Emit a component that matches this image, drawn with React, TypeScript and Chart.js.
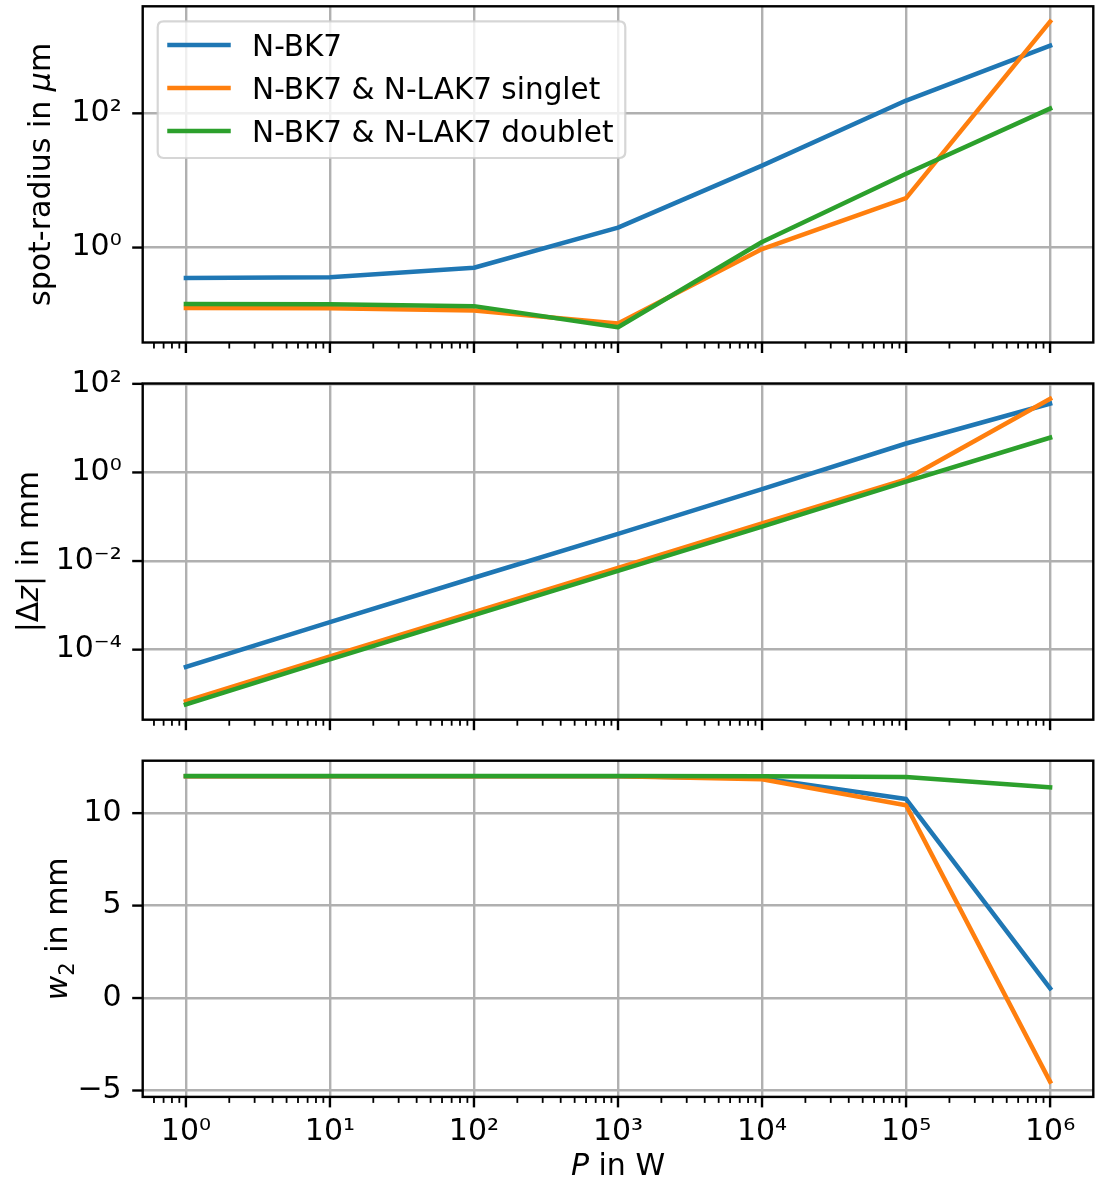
import React, { useEffect, useRef } from "react";
import { Chart, registerables } from "chart.js";

Chart.register(...registerables);

// ---------------- data ----------------
const powerW = [1, 10, 100, 1000, 10000, 100000, 1000000];
const seriesLabels = ["N-BK7", "N-BK7 & N-LAK7 singlet", "N-BK7 & N-LAK7 doublet"];
const seriesColors = ["#1f77b4", "#ff7f0e", "#2ca02c"];

const spotRadiusNBK7 = [0.352, 0.36, 0.5, 1.98, 16.6, 155, 1020];
const spotRadiusSinglet = [0.126, 0.125, 0.115, 0.074, 0.95, 5.46, 2330];
const spotRadiusDoublet = [0.144, 0.143, 0.134, 0.065, 1.21, 12.6, 118];

const deltaZNBK7 = [4.07e-5, 4.2e-4, 4.2e-3, 0.041, 0.42, 4.5, 35.8];
const deltaZSinglet = [6.85e-6, 7.0e-5, 7.0e-4, 7.0e-3, 0.071, 0.7, 46];
const deltaZDoublet = [5.8e-6, 6.0e-5, 6.0e-4, 6.0e-3, 0.06, 0.62, 6.1];

const w2NBK7 = [12.0, 12.0, 12.0, 12.0, 11.89, 10.76, 0.52];
const w2Singlet = [12.0, 12.0, 12.0, 11.99, 11.83, 10.43, -4.52];
const w2Doublet = [12.01, 12.01, 12.01, 12.01, 12.0, 11.96, 11.4];

const xMajorExponents = [0, 1, 2, 3, 4, 5, 6];
const spotTickExponents = [0, 2];
const deltaZTickExponents = [-4, -2, 0, 2];
const w2TickValues = [-5, 0, 5, 10];

// ---------------- style ----------------
const FONT = "'DejaVu Sans', 'Noto Sans', sans-serif";
const FS = 30;
const LEG_FS = 29.5;
const LW = 4.5;
const GRID = "#b0b0b0";
const GRID_W = 2.4;
const SPINE_W = 2.4;
const MAJOR_LEN = 10.5;
const MINOR_LEN = 6;
const FIG_W = 1096;
const FIG_H = 1183;
const AX_LEFT = 142.7;
const AX_RIGHT = 1093.3;

const SUP: Record<string, string> = {
  "0": "\u2070", "1": "\u00b9", "2": "\u00b2", "3": "\u00b3", "4": "\u2074",
  "5": "\u2075", "6": "\u2076", "7": "\u2077", "8": "\u2078", "9": "\u2079", "-": "\u207b",
};
const pow10Label = (e: number) => "10" + String(e).split("").map((c) => SUP[c]).join("");

function logLimits(arrs: number[][]): [number, number] {
  const all = arrs.flat();
  const lo = Math.log10(Math.min(...all));
  const hi = Math.log10(Math.max(...all));
  const m = 0.05 * (hi - lo);
  return [Math.pow(10, lo - m), Math.pow(10, hi + m)];
}
function linLimits(arrs: number[][]): [number, number] {
  const all = arrs.flat();
  const lo = Math.min(...all);
  const hi = Math.max(...all);
  const m = 0.05 * (hi - lo);
  return [lo - m, hi + m];
}

const xLimits = logLimits([powerW]);
const xMajorValues = xMajorExponents.map((e) => Math.pow(10, e));
const xMinorValues: number[] = [];
for (let e = -1; e <= 6; e++) {
  for (let k = 2; k <= 9; k++) {
    const v = k * Math.pow(10, e);
    if (v >= xLimits[0] && v <= xLimits[1]) xMinorValues.push(v);
  }
}

type Seg = { text: string; italic?: boolean; scale?: number; dy?: number };

function drawRich(ctx: CanvasRenderingContext2D, segs: Seg[], x: number, y: number, rotate: boolean) {
  ctx.save();
  ctx.translate(x, y);
  if (rotate) ctx.rotate(-Math.PI / 2);
  ctx.textBaseline = "alphabetic";
  ctx.textAlign = "left";
  ctx.fillStyle = "#000";
  const fontOf = (s: Seg) => `${s.italic ? "italic " : ""}${(s.scale || 1) * FS}px ${FONT}`;
  let total = 0;
  for (const s of segs) {
    ctx.font = fontOf(s);
    total += ctx.measureText(s.text).width;
  }
  let cx = -total / 2;
  for (const s of segs) {
    ctx.font = fontOf(s);
    ctx.fillText(s.text, cx, s.dy || 0);
    cx += ctx.measureText(s.text).width;
  }
  ctx.restore();
}

function line(ctx: CanvasRenderingContext2D, x1: number, y1: number, x2: number, y2: number) {
  ctx.beginPath();
  ctx.moveTo(x1, y1);
  ctx.lineTo(x2, y2);
  ctx.stroke();
}

const mplFrame = {
  id: "mplFrame",
  afterDraw(chart: any, _args: any, opts: any) {
    const { ctx, chartArea: a } = chart;
    const xs = chart.scales.x;
    const ys = chart.scales.y;
    ctx.save();
    ctx.strokeStyle = "#000";
    ctx.lineCap = "butt";
    // y ticks
    ctx.lineWidth = SPINE_W;
    for (const v of opts.yTickValues) {
      const py = ys.getPixelForValue(v);
      line(ctx, a.left - MAJOR_LEN, py, a.left, py);
    }
    // x ticks
    for (const v of xMajorValues) {
      const px = xs.getPixelForValue(v);
      line(ctx, px, a.bottom, px, a.bottom + MAJOR_LEN);
    }
    ctx.lineWidth = 1.8;
    for (const v of xMinorValues) {
      const px = xs.getPixelForValue(v);
      line(ctx, px, a.bottom, px, a.bottom + MINOR_LEN);
    }
    // spines
    ctx.lineWidth = SPINE_W;
    ctx.lineJoin = "miter";
    ctx.strokeRect(a.left, a.top, a.right - a.left, a.bottom - a.top);
    // titles
    if (opts.yTitle) drawRich(ctx, opts.yTitle.segs, opts.yTitle.x, (a.top + a.bottom) / 2, true);
    if (opts.xTitle) drawRich(ctx, opts.xTitle.segs, (a.left + a.right) / 2, opts.xTitle.y, false);
    // legend
    if (opts.legend) {
      const datasets = chart.data.datasets;
      ctx.font = `${LEG_FS}px ${FONT}`;
      let maxW = 0;
      for (const d of datasets) maxW = Math.max(maxW, ctx.measureText(d.label).width);
      const pad = 0.4 * LEG_FS;
      const handleLen = 2 * LEG_FS;
      const textPad = 0.8 * LEG_FS;
      const lx = a.left + 0.5 * FS;
      const ly = a.top + 0.5 * FS;
      const firstRow = ly + 23.7;
      const pitch = 43;
      const bw = pad + handleLen + textPad + maxW + pad;
      const bh = 23.7 + pitch * (datasets.length - 1) + 27;
      const r = 0.2 * LEG_FS;
      ctx.beginPath();
      ctx.moveTo(lx + r, ly);
      ctx.lineTo(lx + bw - r, ly);
      ctx.quadraticCurveTo(lx + bw, ly, lx + bw, ly + r);
      ctx.lineTo(lx + bw, ly + bh - r);
      ctx.quadraticCurveTo(lx + bw, ly + bh, lx + bw - r, ly + bh);
      ctx.lineTo(lx + r, ly + bh);
      ctx.quadraticCurveTo(lx, ly + bh, lx, ly + bh - r);
      ctx.lineTo(lx, ly + r);
      ctx.quadraticCurveTo(lx, ly, lx + r, ly);
      ctx.closePath();
      ctx.fillStyle = "rgba(255,255,255,0.8)";
      ctx.fill();
      ctx.strokeStyle = "rgba(204,204,204,0.8)";
      ctx.lineWidth = 2.2;
      ctx.stroke();
      datasets.forEach((d: any, i: number) => {
        const cy = firstRow + i * pitch;
        ctx.strokeStyle = d.borderColor;
        ctx.lineWidth = LW;
        ctx.lineCap = "square";
        line(ctx, lx + pad, cy, lx + pad + handleLen, cy);
        ctx.fillStyle = "#000";
        ctx.textBaseline = "alphabetic";
        ctx.textAlign = "left";
        ctx.font = `${LEG_FS}px ${FONT}`;
        ctx.fillText(d.label, lx + pad + handleLen + textPad, cy + 0.365 * LEG_FS);
      });
    }
    ctx.restore();
  },
};

function makeDatasets(series: number[][]) {
  return series.map((vals, i) => ({
    label: seriesLabels[i],
    data: powerW.map((p, j) => ({ x: p, y: vals[j] })),
    borderColor: seriesColors[i],
    backgroundColor: seriesColors[i],
    borderWidth: LW,
    pointRadius: 0,
    pointHoverRadius: 0,
    tension: 0,
    fill: false,
    borderJoinStyle: "round",
    borderCapStyle: "square",
    order: series.length - i,
  }));
}

type PanelSpec = {
  canvasTop: number;
  canvasH: number;
  axTop: number;
  axBottom: number;
  series: number[][];
  yType: "logarithmic" | "linear";
  yLimits: [number, number];
  yTickValues: number[];
  yLabel: (v: number) => string;
  yTitle: { segs: Seg[]; x: number };
  showXLabels: boolean;
  xTitle?: { segs: Seg[]; y: number };
  legend?: boolean;
};

const panels: PanelSpec[] = [
  {
    canvasTop: 0,
    canvasH: 363,
    axTop: 6.3,
    axBottom: 342.5,
    series: [spotRadiusNBK7, spotRadiusSinglet, spotRadiusDoublet],
    yType: "logarithmic",
    yLimits: logLimits([spotRadiusNBK7, spotRadiusSinglet, spotRadiusDoublet]),
    yTickValues: spotTickExponents.map((e) => Math.pow(10, e)),
    yLabel: (v) => pow10Label(Math.round(Math.log10(v))),
    yTitle: { segs: [{ text: "spot-radius in " }, { text: "\u03bc", italic: true }, { text: "m" }], x: 50 },
    showXLabels: false,
    legend: true,
  },
  {
    canvasTop: 363,
    canvasH: 377,
    axTop: 383.5,
    axBottom: 719.7,
    series: [deltaZNBK7, deltaZSinglet, deltaZDoublet],
    yType: "logarithmic",
    yLimits: logLimits([deltaZNBK7, deltaZSinglet, deltaZDoublet]),
    yTickValues: deltaZTickExponents.map((e) => Math.pow(10, e)),
    yLabel: (v) => pow10Label(Math.round(Math.log10(v))),
    yTitle: { segs: [{ text: "|\u0394" }, { text: "z", italic: true }, { text: "| in mm" }], x: 38 },
    showXLabels: false,
  },
  {
    canvasTop: 740,
    canvasH: 443,
    axTop: 760.7,
    axBottom: 1096.9,
    series: [w2NBK7, w2Singlet, w2Doublet],
    yType: "linear",
    yLimits: linLimits([w2NBK7, w2Singlet, w2Doublet]),
    yTickValues: w2TickValues,
    yLabel: (v) => (v < 0 ? "\u2212" + Math.abs(v) : String(v)),
    yTitle: {
      segs: [{ text: "w", italic: true }, { text: "2", scale: 0.7, dy: 6.6 }, { text: " in mm" }],
      x: 67,
    },
    showXLabels: true,
    xTitle: { segs: [{ text: "P", italic: true }, { text: " in W" }], y: 1175 - 740 },
  },
];

function buildConfig(p: PanelSpec): any {
  const xAxisH = p.canvasH - (p.axBottom - p.canvasTop);
  const yTicksInRange = p.yTickValues.filter(
    (v) => v >= p.yLimits[0] * (p.yType === "logarithmic" ? 0.999 : 1) - 1e-9 && v <= p.yLimits[1] * (p.yType === "logarithmic" ? 1.001 : 1) + 1e-9
  );
  return {
    type: "line",
    data: { datasets: makeDatasets(p.series) },
    plugins: [mplFrame],
    options: {
      responsive: false,
      animation: false,
      devicePixelRatio: 1,
      events: [],
      layout: { padding: { top: p.axTop - p.canvasTop, left: 0, right: FIG_W - AX_RIGHT, bottom: 0 } },
      plugins: {
        legend: { display: false },
        title: { display: false },
        tooltip: { enabled: false },
        mplFrame: {
          yTickValues: yTicksInRange,
          yTitle: p.yTitle,
          xTitle: p.xTitle,
          legend: !!p.legend,
        },
      },
      scales: {
        x: {
          type: "logarithmic",
          position: "bottom",
          min: xLimits[0],
          max: xLimits[1],
          afterBuildTicks: (s: any) => {
            s.ticks = xMajorValues.map((v) => ({ value: v, major: true }));
          },
          afterFit: (s: any) => {
            s.height = xAxisH;
            s.paddingLeft = 0;
            s.paddingRight = 0;
            s.paddingTop = 0;
            s.paddingBottom = 0;
          },
          grid: { color: GRID, lineWidth: GRID_W, drawTicks: false },
          border: { display: false },
          ticks: {
            display: p.showXLabels,
            autoSkip: false,
            maxRotation: 0,
            minRotation: 0,
            padding: 17,
            color: "#000",
            font: { family: FONT, size: FS },
            callback: (v: number) => pow10Label(Math.round(Math.log10(v))),
          },
        },
        y: {
          type: p.yType,
          position: "left",
          min: p.yLimits[0],
          max: p.yLimits[1],
          afterBuildTicks: (s: any) => {
            s.ticks = yTicksInRange.map((v) => ({ value: v, major: true }));
          },
          afterFit: (s: any) => {
            s.width = AX_LEFT;
            s.paddingLeft = 0;
            s.paddingRight = 0;
            s.paddingTop = 0;
            s.paddingBottom = 0;
          },
          grid: { color: GRID, lineWidth: GRID_W, drawTicks: false },
          border: { display: false },
          ticks: {
            autoSkip: false,
            padding: 21,
            color: "#000",
            font: { family: FONT, size: FS },
            callback: (v: number) => p.yLabel(v),
          },
        },
      },
    },
  };
}

export default function App() {
  const refs = [useRef<HTMLCanvasElement>(null), useRef<HTMLCanvasElement>(null), useRef<HTMLCanvasElement>(null)];

  useEffect(() => {
    const charts: Chart[] = [];
    panels.forEach((p, i) => {
      const c = refs[i].current;
      if (!c) return;
      charts.push(new Chart(c, buildConfig(p)));
    });
    return () => charts.forEach((c) => c.destroy());
  }, []);

  return (
    <div
      style={{
        position: "absolute",
        left: 0,
        top: 0,
        width: FIG_W,
        height: FIG_H,
        background: "#fff",
        overflow: "hidden",
      }}
    >
      {panels.map((p, i) => (
        <canvas
          key={i}
          ref={refs[i]}
          width={FIG_W}
          height={p.canvasH}
          style={{ position: "absolute", left: 0, top: p.canvasTop, width: FIG_W, height: p.canvasH }}
        />
      ))}
    </div>
  );
}
